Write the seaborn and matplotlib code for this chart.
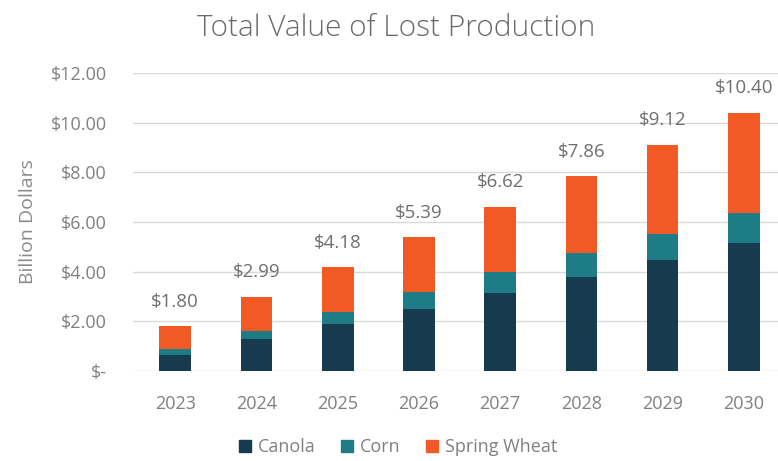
import matplotlib
matplotlib.use("Agg")
import matplotlib.pyplot as plt
import matplotlib.patches as mpatches
import seaborn as sns
import pandas as pd
import numpy as np

years = ["2023", "2024", "2025", "2026", "2027", "2028", "2029", "2030"]
canola = [0.65, 1.28, 1.90, 2.50, 3.13, 3.80, 4.48, 5.15]
corn = [0.24, 0.35, 0.49, 0.67, 0.85, 0.94, 1.04, 1.21]
wheat = [0.91, 1.36, 1.79, 2.22, 2.64, 3.12, 3.60, 4.04]
series_names = ["Canola", "Corn", "Spring Wheat"]
colors = ["#163B4E", "#1D7C85", "#F15A24"]
yticks = [0, 2, 4, 6, 8, 10, 12]
ytick_labels = ["$-", "$2.00", "$4.00", "$6.00", "$8.00", "$10.00", "$12.00"]

sns.set_theme(style="white")
plt.rcParams["font.family"] = ["Open Sans", "DejaVu Sans"]

df = pd.DataFrame({"year": years, "canola": canola, "corn": corn, "wheat": wheat})
df["c1"] = df["canola"]
df["c2"] = df["canola"] + df["corn"]
df["c3"] = df["c2"] + df["wheat"]

fig = plt.figure(figsize=(7.78, 4.61), dpi=100)
ax = fig.add_axes([133 / 778, 1 - 371 / 461, 1 - 133 / 778, (371 - 73) / 461])

w = 0.39
for col, c in zip(["c3", "c2", "c1"], [colors[2], colors[1], colors[0]]):
    sns.barplot(data=df, x="year", y=col, color=c, saturation=1, width=w, ax=ax,
                errorbar=None, zorder=3, linewidth=0, edgecolor="none")

for i, tot in enumerate(df["c3"]):
    ax.annotate(f"${tot:.2f}", (i, tot), xytext=(0, 11), textcoords="offset points",
                ha="center", va="bottom", fontsize=13.5, color="#6f6f6f")

ax.set_ylim(0, 12)
ax.set_xlim(-0.52, 7.42)
ax.set_yticks(yticks)
ax.set_yticklabels(ytick_labels)
ax.yaxis.grid(True, color="#d9d9d9", linewidth=1, zorder=0)
ax.set_axisbelow(True)
for s in ax.spines.values():
    s.set_visible(False)
ax.tick_params(axis="y", length=0, pad=19, labelsize=13, labelcolor="#808080")
ax.tick_params(axis="x", length=0, pad=17, labelsize=13, labelcolor="#808080")
ax.set_xlabel("")
ax.set_ylabel("Billion Dollars", fontsize=14, color="#8a8a8a", labelpad=10)

fig.text(396 / 778, 1 - 28 / 461, "Total Value of Lost Production", ha="center", va="center",
         fontsize=21.5, color="#6a6a6a", fontweight="light")

handles = [mpatches.Patch(color=c, label=n) for c, n in zip(colors, series_names)]
fig.legend(handles=handles, loc="center", bbox_to_anchor=(0.512, 1 - 447 / 461), ncol=3,
           frameon=False, fontsize=13, handlelength=0.65, handleheight=0.65, handletextpad=0.4,
           columnspacing=1.4, labelcolor="#808080")

fig.savefig("out.png", dpi=100)
